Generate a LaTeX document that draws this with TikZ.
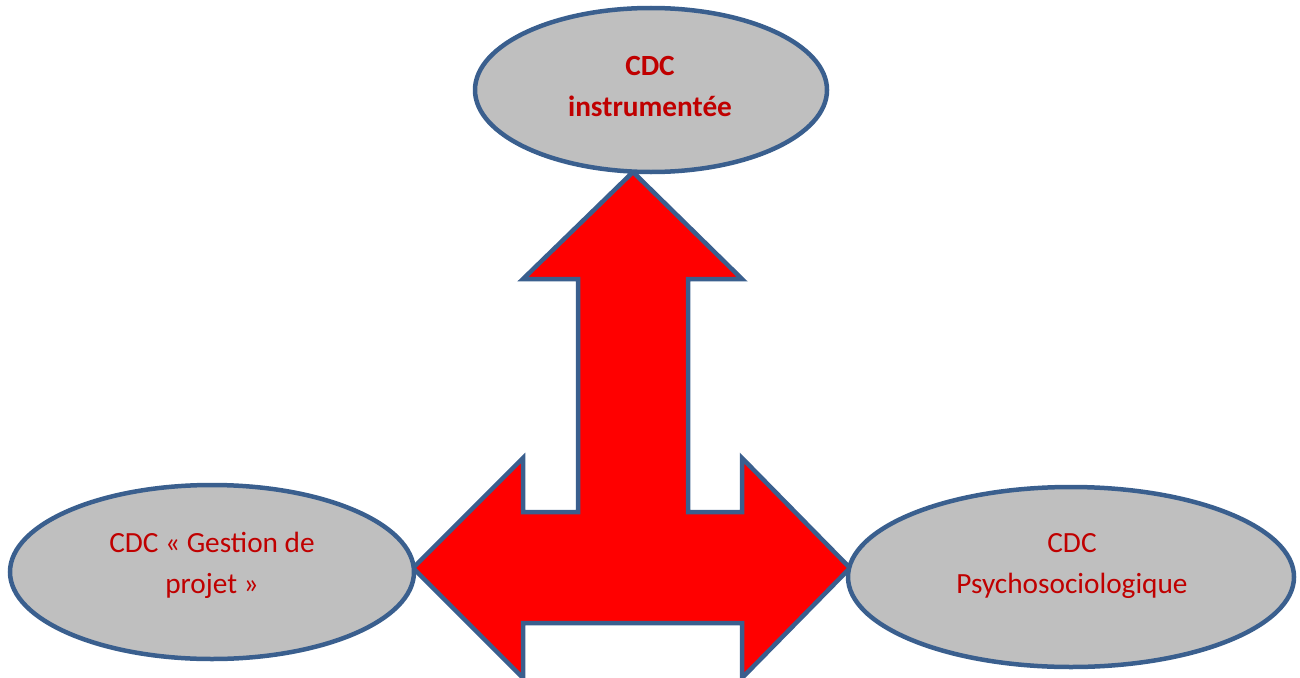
\documentclass[tikz,border=0pt]{standalone}
\usepackage{fontspec}
\setmainfont{Carlito}
\usetikzlibrary{shapes.geometric}
\definecolor{rimblue}{HTML}{3A5F8E}
\definecolor{bubblegray}{HTML}{BFBFBF}
\definecolor{labelred}{HTML}{C00000}
\definecolor{arrowred}{HTML}{FF0000}
\begin{document}
\begin{tikzpicture}[x=1pt,y=-1pt,
  bubble/.style={ellipse,draw=rimblue,fill=bubblegray,line width=4.5pt,inner sep=0pt},
  caption/.style={text=labelred,font=\fontsize{29.3}{41}\selectfont,align=center,inner sep=0pt},
  bigarrow/.style={draw=rimblue,fill=arrowred,line width=4.5pt,line join=miter}]
\useasboundingbox (0,0) rectangle (1300,677);
\clip (0,0) rectangle (1300,677);
% three-headed block arrow
\path[bigarrow] (633,172) -- (742,279) -- (688,279) -- (688,512) -- (742,512)
  -- (742,458) -- (850,568) -- (742,678) -- (742,623) -- (523,623) -- (523,678)
  -- (413,568) -- (523,458) -- (523,512) -- (578,512) -- (578,279) -- (523,279) -- cycle;
% the three bubbles
\node[bubble,minimum width=352pt,minimum height=164pt] (top) at (651,90) {};
\node[bubble,minimum width=404pt,minimum height=174pt] (left) at (212,572) {};
\node[bubble,minimum width=446pt,minimum height=180pt] (right) at (1071,577) {};
% their texts
\node[caption,font=\fontsize{29.3}{41}\selectfont\bfseries] (toptext) at (650,86) {CDC\\instrumentée};
\node[caption] (lefttext) at (212,565) {CDC « Gestion de\\projet »};
\node[caption] (righttext) at (1072,566) {CDC\\Psychosociologique};
\end{tikzpicture}
\end{document}
